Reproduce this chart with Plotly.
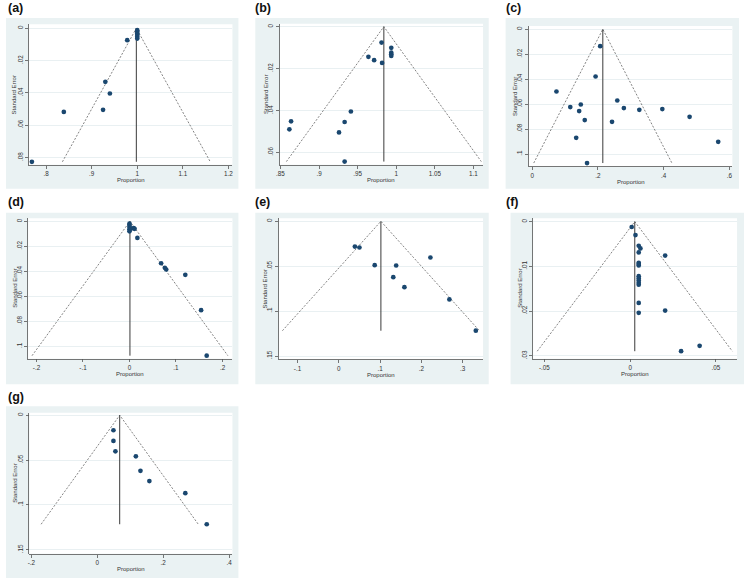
import plotly.graph_objects as go

# ---------------- data ----------------
labels = ["(a)", "(b)", "(c)", "(d)", "(e)", "(f)", "(g)"]

prop_a = [1.0, 1.0, 1.0, 1.0, 1.0, 1.0, 0.978, 0.930, 0.940, 0.925, 0.839, 0.769]
se_a = [0.0012, 0.0022, 0.0032, 0.0042, 0.0053, 0.0064, 0.0074, 0.0332, 0.0404, 0.0505, 0.0518, 0.0827]

prop_b = [0.981, 0.9936, 0.9936, 0.9936, 0.9936, 0.964, 0.9714, 0.9817, 0.9413, 0.9332, 0.8638, 0.8616, 0.9259, 0.9332]
se_b = [0.0076, 0.0101, 0.0124, 0.0132, 0.0140, 0.0144, 0.0160, 0.0173, 0.0405, 0.0455, 0.0452, 0.0490, 0.0505, 0.0644]

prop_c = [0.207, 0.193, 0.074, 0.259, 0.148, 0.116, 0.279, 0.326, 0.396, 0.143, 0.160, 0.243, 0.479, 0.134, 0.566, 0.167]
se_c = [0.0136, 0.0379, 0.0499, 0.0571, 0.0603, 0.0624, 0.0632, 0.0646, 0.0640, 0.0656, 0.0728, 0.0742, 0.0702, 0.0870, 0.0902, 0.1072]

prop_d = [0.0, 0.0, 0.0, 0.0, 0.0, 0.0035, 0.009, 0.011, 0.017, 0.068, 0.076, 0.079, 0.120, 0.154, 0.166]
se_d = [0.0019, 0.0030, 0.0045, 0.0063, 0.0080, 0.0058, 0.0055, 0.0060, 0.0133, 0.0335, 0.0372, 0.0385, 0.0428, 0.0710, 0.1074]

prop_e = [0.039, 0.050, 0.087, 0.139, 0.222, 0.132, 0.159, 0.268, 0.332]
se_e = [0.0281, 0.0292, 0.0489, 0.0492, 0.0403, 0.0622, 0.0733, 0.0870, 0.1218]

prop_f = [0.0009, 0.0031, 0.005, 0.006, 0.005, 0.0204, 0.005, 0.005, 0.005, 0.005, 0.005, 0.005, 0.005, 0.005, 0.005, 0.005, 0.0204, 0.0297, 0.0405]
se_f = [0.0012, 0.0030, 0.0054, 0.0060, 0.0069, 0.0076, 0.0092, 0.0095, 0.0098, 0.0122, 0.0127, 0.0132, 0.0137, 0.0141, 0.0182, 0.0204, 0.0199, 0.0290, 0.0278]

prop_g = [0.049, 0.049, 0.055, 0.117, 0.131, 0.158, 0.267, 0.332]
se_g = [0.0168, 0.0287, 0.0403, 0.0459, 0.0620, 0.0735, 0.0869, 0.1216]

# pooled estimate and maximum standard error of each funnel
pooled = [0.998, 0.984, 0.215, 0.001, 0.102, 0.0027, 0.068]
se_max = [0.0827, 0.0644, 0.1072, 0.1074, 0.1218, 0.0290, 0.1216]

x_ticks = [
    [0.8, 0.9, 1.0, 1.1, 1.2],
    [0.85, 0.9, 0.95, 1.0, 1.05, 1.1],
    [0.0, 0.2, 0.4, 0.6],
    [-0.2, -0.1, 0.0, 0.1, 0.2],
    [-0.1, 0.0, 0.1, 0.2, 0.3],
    [-0.05, 0.0, 0.05],
    [-0.2, 0.0, 0.2, 0.4],
]
x_tick_text = [
    [".8", ".9", "1", "1.1", "1.2"],
    [".85", ".9", ".95", "1", "1.05", "1.1"],
    ["0", ".2", ".4", ".6"],
    ["-.2", "-.1", "0", ".1", ".2"],
    ["-.1", "0", ".1", ".2", ".3"],
    ["-.05", "0", ".05"],
    ["-.2", "0", ".2", ".4"],
]
y_ticks = [
    [0, 0.02, 0.04, 0.06, 0.08],
    [0, 0.02, 0.04, 0.06],
    [0, 0.02, 0.04, 0.06, 0.08, 0.1],
    [0, 0.02, 0.04, 0.06, 0.08, 0.1],
    [0, 0.05, 0.1, 0.15],
    [0, 0.01, 0.02, 0.03],
    [0, 0.05, 0.1, 0.15],
]
y_tick_text = [
    ["0", ".02", ".04", ".06", ".08"],
    ["0", ".02", ".04", ".06"],
    ["0", ".02", ".04", ".06", ".08", ".1"],
    ["0", ".02", ".04", ".06", ".08", ".1"],
    ["0", ".05", ".1", ".15"],
    ["0", ".01", ".02", ".03"],
    ["0", ".05", ".1", ".15"],
]
x_title = "Proportion"
y_title = "Standard Error"

props = [prop_a, prop_b, prop_c, prop_d, prop_e, prop_f, prop_g]
ses = [se_a, se_b, se_c, se_d, se_e, se_f, se_g]

# ---------------- layout (pixels) ----------------
W, H = 745, 578
geo = [
    dict(g=(2, 236, 17, 188), p=(25, 230, 23.3, 164), xr=(0.7623, 1.2087), yr=(0.0845, -0.00247), lab=(2, 7)),
    dict(g=(253, 488, 17, 188), p=(277.5, 482.3, 22.7, 164), xr=(0.849, 1.1125), yr=(0.0659, -0.00143), lab=(251, 7)),
    dict(g=(505, 740, 17, 188), p=(528.3, 733.3, 25, 165.7), xr=(-0.0103, 0.6091), yr=(0.1099, -0.0026), lab=(503, 7)),
    dict(g=(2, 236, 212, 384), p=(24.3, 230, 217.7, 358.3), xr=(-0.2179, 0.2214), yr=(0.1098, -0.0024), lab=(2, 201.5)),
    dict(g=(253, 488, 212, 384), p=(276.5, 482.3, 217.7, 359), xr=(-0.1458, 0.3496), yr=(0.1537, -0.0033), lab=(251, 201.5)),
    dict(g=(510, 745, 212, 384), p=(532.7, 738, 217.7, 358.3), xr=(-0.05654, 0.0623), yr=(0.03067, -0.00074), lab=(503, 201.5)),
    dict(g=(2, 236, 406, 578), p=(25.5, 230, 412.5, 553.7), xr=(-0.2061, 0.41), yr=(0.1545, -0.0027), lab=(2, 397)),
]

BG = "#EAF2F3"
NAVY = "#1A476F"
LINE = "#4d4d4d"
AX = "#555555"
GRID = "#E3ECEF"
FONT = "Liberation Sans, Arial, sans-serif"

fig = go.Figure()
shapes = []
annotations = []
layout_axes = {}


def px(x):
    return x / W


def py(y):
    return 1 - y / H


for i in range(7):
    k = i + 1
    gspec = geo[i]
    gx0, gx1, gy0, gy1 = gspec["g"]
    x0, x1, y0, y1 = gspec["p"]
    xs = "x" if k == 1 else f"x{k}"
    ys = "y" if k == 1 else f"y{k}"
    xname = "xaxis" if k == 1 else f"xaxis{k}"
    yname = "yaxis" if k == 1 else f"yaxis{k}"

    shapes.append(dict(type="rect", xref="paper", yref="paper", x0=px(gx0), x1=px(gx1),
                       y0=py(gy1), y1=py(gy0), fillcolor=BG, line=dict(width=0), layer="below"))
    shapes.append(dict(type="rect", xref="paper", yref="paper", x0=px(x0), x1=px(x1),
                       y0=py(y1), y1=py(y0), fillcolor="white", line=dict(width=0), layer="below"))

    layout_axes[xname] = dict(
        domain=[px(x0), px(x1)], range=list(gspec["xr"]), anchor=ys,
        tickvals=x_ticks[i], ticktext=x_tick_text[i], ticks="outside", ticklen=3,
        tickwidth=0.8, tickcolor=AX, showline=True, linecolor=AX, linewidth=0.8,
        showgrid=False, zeroline=False, tickfont=dict(family=FONT, size=6.3, color="#333"),
        fixedrange=True,
    )
    layout_axes[yname] = dict(
        domain=[py(y1), py(y0)], range=list(gspec["yr"]), anchor=xs,
        tickvals=y_ticks[i], ticktext=y_tick_text[i], ticks="outside", ticklen=3,
        tickwidth=0.8, tickcolor=AX, showline=True, linecolor=AX, linewidth=0.8,
        showgrid=True, gridcolor=GRID, gridwidth=0.8, zeroline=False, tickangle=-90,
        tickfont=dict(family=FONT, size=6.3, color="#333"), fixedrange=True,
    )

    c = pooled[i]
    m = se_max[i]
    fig.add_trace(go.Scatter(
        x=[c - 1.96 * m, c, c + 1.96 * m], y=[m, 0, m], mode="lines",
        line=dict(color=LINE, width=0.7, dash="2px,1.6px"), xaxis=xs, yaxis=ys,
        hoverinfo="skip"))
    fig.add_trace(go.Scatter(
        x=[c, c], y=[0, m], mode="lines", line=dict(color="#3a3a3a", width=1.0),
        xaxis=xs, yaxis=ys, hoverinfo="skip"))
    fig.add_trace(go.Scatter(
        x=props[i], y=ses[i], mode="markers",
        marker=dict(color=NAVY, size=4.7, line=dict(width=0)), xaxis=xs, yaxis=ys))

    lx, ly = gspec["lab"]
    annotations.append(dict(text="<b>" + labels[i] + "</b>", x=px(lx), y=py(ly), xref="paper",
                            yref="paper", xanchor="left", yanchor="middle", showarrow=False,
                            font=dict(family=FONT, size=12.5, color="#111")))
    annotations.append(dict(text=x_title, x=px((x0 + x1) / 2), y=py(y1 + 15.5), xref="paper",
                            yref="paper", xanchor="center", yanchor="middle", showarrow=False,
                            font=dict(family=FONT, size=6, color="#333")))
    annotations.append(dict(text=y_title, x=px(x0 - 14), y=py((y0 + y1) / 2), xref="paper",
                            yref="paper", xanchor="center", yanchor="middle", showarrow=False,
                            textangle=-90, font=dict(family=FONT, size=6, color="#333")))

fig.update_layout(
    width=W, height=H, margin=dict(l=0, r=0, t=0, b=0, pad=0),
    paper_bgcolor="white", plot_bgcolor="rgba(0,0,0,0)", showlegend=False,
    hovermode=False, shapes=shapes, annotations=annotations, **layout_axes,
)

fig.write_html("out.html", config=dict(displayModeBar=False, staticPlot=True),
               post_script="document.body.style.margin='0';document.body.style.overflow='hidden';")
